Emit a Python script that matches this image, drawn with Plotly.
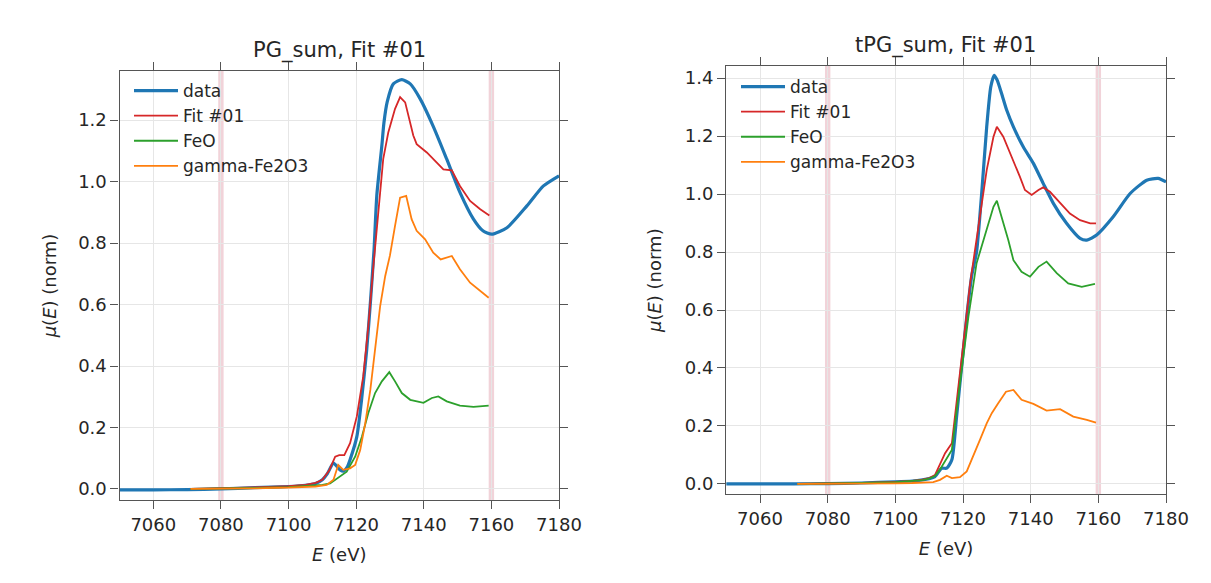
import plotly.graph_objects as go

# ---------------- data: left panel (PG_sum) ----------------
pg_data_E = [7050, 7060, 7070, 7080, 7090, 7100, 7105, 7108, 7110, 7111.5, 7113.3, 7115.2, 7116.3,
             7117.3, 7118.2, 7120.2, 7121.6, 7123.1, 7124.3, 7125.3, 7126.1, 7127.6, 7128.2, 7129.2,
             7131, 7133.5, 7136, 7138.9, 7142.8, 7146.8, 7150.7, 7154.7, 7157.5, 7160.1, 7164.6,
             7170.5, 7175.4, 7180]
pg_data_v = [-0.003, -0.003, -0.002, 0.0, 0.004, 0.008, 0.012, 0.018, 0.03, 0.05, 0.084, 0.062, 0.058,
             0.07, 0.095, 0.17, 0.29, 0.45, 0.62, 0.78, 0.954, 1.117, 1.19, 1.26,
             1.318, 1.332, 1.318, 1.27, 1.18, 1.073, 0.965, 0.878, 0.84, 0.829, 0.85,
             0.921, 0.986, 1.019]

pg_fit_E = [7071, 7080, 7090, 7100, 7105, 7108, 7110, 7112, 7113.8, 7115, 7116.5, 7118.2, 7120.2,
            7122.1, 7123.6, 7125.1, 7126.5, 7128, 7129.5, 7131.5, 7133, 7134.5, 7136.9, 7137.9,
            7140.9, 7143.8, 7145.8, 7148.3, 7150.7, 7153.7, 7156.7, 7159.4]
pg_fit_v = [0.0, 0.002, 0.005, 0.009, 0.013, 0.02, 0.03, 0.06, 0.105, 0.11, 0.11, 0.149, 0.236,
            0.366, 0.53, 0.725, 0.9, 1.073, 1.16, 1.237, 1.275, 1.258, 1.15, 1.122,
            1.095, 1.063, 1.04, 1.037, 0.986, 0.937, 0.91, 0.89]

pg_feo_E = [7071, 7080, 7090, 7100, 7105, 7110, 7112.3, 7115.2, 7117.2, 7119.7, 7121.7, 7123.6,
            7125.6, 7127.6, 7129.8, 7131.5, 7133.5, 7136, 7139.9, 7142.4, 7144.3, 7146.8, 7150.7,
            7154.7, 7159.2]
pg_feo_v = [0.0, 0.001, 0.003, 0.006, 0.009, 0.013, 0.018, 0.04, 0.056, 0.105, 0.17, 0.247,
            0.312, 0.35, 0.38, 0.35, 0.312, 0.29, 0.28, 0.296, 0.301, 0.285, 0.271,
            0.267, 0.271]

pg_gam_E = [7071, 7080, 7090, 7100, 7105, 7108, 7111.3, 7113.3, 7114.7, 7116.2, 7118.2, 7119.7,
            7121.2, 7122.7, 7124.2, 7125.6, 7127.1, 7128.6, 7130, 7131.5, 7133, 7134.8, 7136.4,
            7137.9, 7140.4, 7142.8, 7145, 7148.3, 7150.7, 7153.7, 7156.7, 7159.2]
pg_gam_v = [0.0, 0.0, 0.002, 0.004, 0.006, 0.008, 0.013, 0.03, 0.078, 0.062, 0.067, 0.078,
            0.127, 0.214, 0.323, 0.453, 0.595, 0.693, 0.76, 0.856, 0.948, 0.954, 0.878,
            0.84, 0.812, 0.769, 0.747, 0.758, 0.715, 0.671, 0.644, 0.622]

# ---------------- data: right panel (tPG_sum) ----------------
tpg_data_E = [7050, 7060, 7070, 7080, 7090, 7100, 7105, 7108, 7110, 7111.7, 7113.7, 7115.2, 7116.7,
              7118.1, 7119.6, 7121.1, 7122.6, 7124.0, 7125.5, 7127, 7128.2, 7129.2, 7130.1, 7131.4,
              7132.9, 7134.9, 7137.8, 7140.8, 7143.7, 7146.7, 7150.6, 7154.6, 7156.6, 7159.5,
              7164.4, 7169.4, 7174.3, 7177.7, 7180]
tpg_data_v = [0.0, 0.0, 0.0, 0.001, 0.003, 0.007, 0.01, 0.014, 0.018, 0.025, 0.054, 0.054, 0.083,
              0.232, 0.405, 0.577, 0.72, 0.8, 1.0, 1.232, 1.37, 1.41, 1.393, 1.347,
              1.29, 1.232, 1.163, 1.106, 1.037, 0.968, 0.899, 0.847, 0.841, 0.859,
              0.922, 1.002, 1.048, 1.054, 1.042]

tpg_fit_E = [7071, 7080, 7090, 7100, 7105, 7108, 7110, 7111.7, 7113.2, 7114.7, 7116.7, 7118.1,
             7120.1, 7122.1, 7124.5, 7127, 7129, 7130, 7131.9, 7134.4, 7136.8, 7138.3, 7140.3,
             7142.3, 7143.7, 7145.7, 7148.7, 7151.6, 7154.6, 7157.6, 7159.3]
tpg_fit_v = [0.0, 0.001, 0.003, 0.007, 0.01, 0.015, 0.02, 0.03, 0.071, 0.106, 0.14, 0.29,
             0.485, 0.692, 0.887, 1.083, 1.198, 1.232, 1.198, 1.129, 1.06, 1.014, 0.997,
             1.014, 1.023, 1.008, 0.968, 0.933, 0.91, 0.899, 0.899]

tpg_feo_E = [7071, 7080, 7090, 7100, 7105, 7108, 7110, 7111.7, 7113.2, 7115.2, 7116.7, 7119.1,
             7121.6, 7124, 7125, 7127, 7129, 7130, 7131.4, 7133.4, 7134.9, 7137.3, 7139.8,
             7142.3, 7144.7, 7147.7, 7151.1, 7155.1, 7159]
tpg_feo_v = [0.0, 0.001, 0.003, 0.006, 0.009, 0.013, 0.018, 0.027, 0.05, 0.09, 0.117, 0.347,
             0.577, 0.761, 0.8, 0.887, 0.956, 0.977, 0.922, 0.841, 0.772, 0.732, 0.715,
             0.749, 0.767, 0.727, 0.692, 0.68, 0.69]

tpg_gam_E = [7071, 7080, 7090, 7100, 7105, 7108, 7111.2, 7113.2, 7115.2, 7116.7, 7119.1, 7121.1,
             7123, 7125, 7127, 7128.5, 7130.4, 7132.7, 7134.9, 7137.3, 7140.8, 7144.7, 7148.7,
             7152.6, 7156.6, 7159.3]
tpg_gam_v = [0.0, 0.0, 0.001, 0.002, 0.003, 0.004, 0.006, 0.014, 0.028, 0.02, 0.023, 0.043,
             0.094, 0.152, 0.209, 0.244, 0.278, 0.318, 0.324, 0.29, 0.276, 0.253, 0.258,
             0.232, 0.221, 0.211]

series_names = ["data", "Fit #01", "FeO", "gamma-Fe2O3"]
titles = ["PG_sum, Fit #01", "tPG_sum, Fit #01"]
x_ticks = [7060, 7080, 7100, 7120, 7140, 7160, 7180]
band_centers = [7080, 7160]

colors = ["#1f77b4", "#d62728", "#2ca02c", "#ff7f0e"]
widths = [3.2, 1.8, 1.8, 1.8]
FONT = "DejaVu Sans"
W, H = 1211, 583
OFF = 8  # page body margin offset

fig = go.Figure()

panels = [
    ([(pg_data_E, pg_data_v), (pg_fit_E, pg_fit_v), (pg_feo_E, pg_feo_v), (pg_gam_E, pg_gam_v)], "x", "y", "legend"),
    ([(tpg_data_E, tpg_data_v), (tpg_fit_E, tpg_fit_v), (tpg_feo_E, tpg_feo_v), (tpg_gam_E, tpg_gam_v)], "x2", "y2", "legend2"),
]
for series, xa, ya, lg in panels:
    for i, (E, v) in enumerate(series):
        fig.add_trace(go.Scatter(
            x=E, y=v, mode="lines", name=series_names[i],
            line=dict(color=colors[i], width=widths[i], shape="spline" if i == 0 else "linear",
                      smoothing=0.6),
            xaxis=xa, yaxis=ya, legend=lg,
        ))

# pink bands
for xr in ["x", "x2"]:
    for c in band_centers:
        fig.add_shape(type="rect", xref=xr, yref=("y" if xr == "x" else "y2") + " domain",
                      x0=c - 0.8, x1=c + 0.8, y0=0, y1=1,
                      fillcolor="rgba(215,130,145,0.35)", line=dict(width=0), layer="below")

def px_x(p):
    return (p - OFF) / W

def px_y(p):
    return 1 - (p - OFF) / H

axis_common = dict(
    showline=True, linecolor="#555", linewidth=1.2, mirror="ticks",
    ticks="outside", ticklen=8, tickwidth=1.2, tickcolor="#555",
    showgrid=True, gridcolor="#e6e6e6", gridwidth=1, zeroline=False,
    tickfont=dict(family=FONT, size=18, color="#262626"),
    automargin=False,
)

ylab = "<i>μ</i>(<i>E</i>) (norm)"
xlab = "<i>E</i> (eV)"

fig.update_layout(
    width=W, height=H,
    margin=dict(l=0, r=0, t=0, b=0),
    paper_bgcolor="white", plot_bgcolor="white",
    font=dict(family=FONT, color="#262626"),
    xaxis=dict(domain=[px_x(119.5), px_x(559)], range=[7050, 7180], tickvals=x_ticks,
               title=dict(text=xlab, font=dict(size=18), standoff=14), anchor="y",
               **axis_common),
    yaxis=dict(domain=[px_y(500), px_y(71)], range=[-0.036, 1.36], dtick=0.2, tickformat=".1f",
               title=dict(text=ylab, font=dict(size=18), standoff=16), anchor="x",
               **axis_common),
    xaxis2=dict(domain=[px_x(726.2), px_x(1166)], range=[7050, 7180], tickvals=x_ticks,
                title=dict(text=xlab, font=dict(size=18), standoff=14), anchor="y2",
                **axis_common),
    yaxis2=dict(domain=[px_y(494.3), px_y(66)], range=[-0.036, 1.442], dtick=0.2, tickformat=".1f",
                title=dict(text=ylab, font=dict(size=18), standoff=18), anchor="x2",
                **axis_common),
    legend=dict(x=px_x(129), y=px_y(73), xanchor="left", yanchor="top",
                bgcolor="rgba(255,255,255,0)", borderwidth=0,
                font=dict(family=FONT, size=17, color="#262626"), itemwidth=44),
    legend2=dict(x=px_x(736), y=px_y(69), xanchor="left", yanchor="top",
                 bgcolor="rgba(255,255,255,0)", borderwidth=0,
                 font=dict(family=FONT, size=17, color="#262626"), itemwidth=44),
    annotations=[
        dict(text=titles[0], x=px_x(339.5), y=px_y(50), xref="paper", yref="paper",
             xanchor="center", yanchor="middle", showarrow=False,
             font=dict(family=FONT, size=21, color="#262626")),
        dict(text=titles[1], x=px_x(946), y=px_y(45), xref="paper", yref="paper",
             xanchor="center", yanchor="middle", showarrow=False,
             font=dict(family=FONT, size=21, color="#262626")),
    ],
)

fig.write_html("out.html")
